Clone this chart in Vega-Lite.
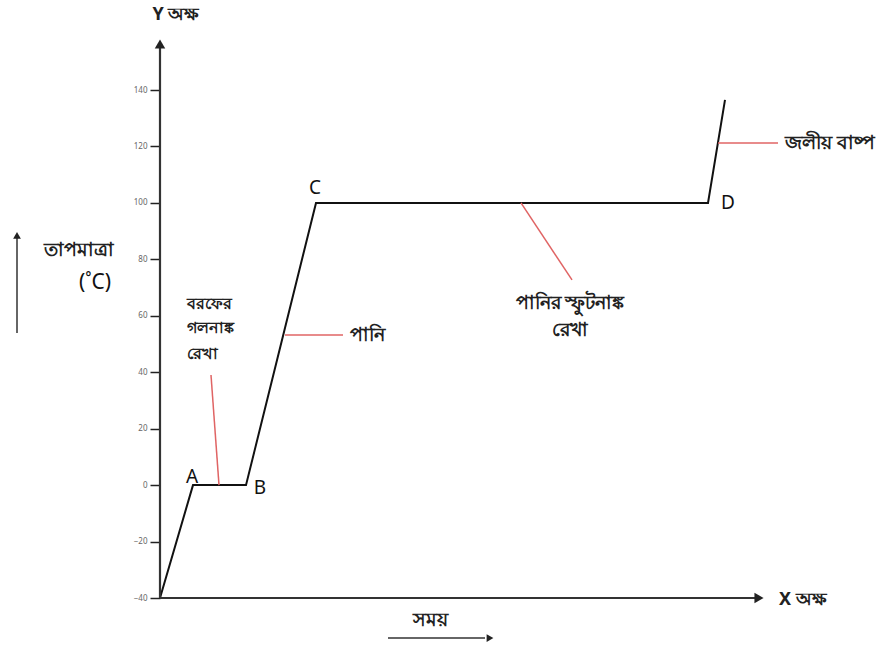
{
  "$schema": "https://vega.github.io/schema/vega-lite/v6.json",
  "width": 719,
  "height": 598,
  "autosize": {"type": "none"},
  "padding": {"left": 160, "top": 0, "right": 0, "bottom": 50},
  "background": "white",
  "config": {"view": {"stroke": null}, "font": "Noto Sans"},
  "datasets": {
    "curve": [
      {"t": 0, "temp": -40},
      {"t": 3.3, "temp": 0},
      {"t": 8.6, "temp": 0},
      {"t": 15.6, "temp": 100},
      {"t": 54.8, "temp": 100},
      {"t": 56.5, "temp": 136.5}
    ],
    "axes": [
      {"x": 0, "y": -40, "x2": 59.8, "y2": -40},
      {"x": 0, "y": -40, "x2": 0, "y2": 156}
    ],
    "arrows": [
      {"x": -14.3, "y": 53.9, "x2": -14.3, "y2": 88},
      {"x": 22.8, "y": -54.2, "x2": 32.5, "y2": -54.2}
    ],
    "bigheads": [
      {"x": 59.9, "y": -40, "dir": "right"},
      {"x": 0, "y": 156.3, "dir": "up"}
    ],
    "smallheads": [
      {"x": 33.0, "y": -54.2, "dir": "right"},
      {"x": -14.3, "y": 88.5, "dir": "up"}
    ],
    "leaders": [
      {"x": 5.9, "y": 0, "x2": 5.1, "y2": 39},
      {"x": 12.5, "y": 53.2, "x2": 18.3, "y2": 53.2},
      {"x": 36.1, "y": 100, "x2": 41.2, "y2": 72.7},
      {"x": 55.8, "y": 121.2, "x2": 61.8, "y2": 121.2}
    ],
    "points": [
      {"x": 3.2, "y": 2.9, "label": "A"},
      {"x": 10.0, "y": -1.0, "label": "B"},
      {"x": 15.5, "y": 105.3, "label": "C"},
      {"x": 56.8, "y": 100, "label": "D"}
    ],
    "melt": [
      {"x": 2.7, "y": 64.2, "label": "বরফের"},
      {"x": 2.7, "y": 55.5, "label": "গলনাঙ্ক"},
      {"x": 2.7, "y": 46.3, "label": "রেখা"}
    ],
    "notesLeft": [
      {"x": 19.0, "y": 53.2, "label": "পানি"},
      {"x": 62.5, "y": 121.2, "label": "জলীয় বাষ্প"}
    ],
    "notesCenter": [
      {"x": 41.0, "y": 64.5, "label": "পানির স্ফুটনাঙ্ক"},
      {"x": 41.0, "y": 55.0, "label": "রেখা"},
      {"x": -8.1, "y": 83.3, "label": "তাপমাত্রা"},
      {"x": 27.0, "y": -47.8, "label": "সময়"}
    ],
    "unit": [
      {"x": -6.5, "y": 71.6, "label": "(˚C)"}
    ],
    "yName": [
      {"x": 1.6, "y": 166.6, "label": "Y অক্ষ"}
    ],
    "xName": [
      {"x": 61.9, "y": -40.7, "label": "X অক্ষ"}
    ]
  },
  "layer": [
    {
      "data": {"name": "curve"},
      "mark": {"type": "line", "color": "#111", "strokeWidth": 2},
      "encoding": {
        "x": {"field": "t", "type": "quantitative", "scale": {"domain": [0, 71.9], "nice": false, "zero": false}, "axis": null},
        "y": {
          "field": "temp", "type": "quantitative",
          "scale": {"domain": [-40, 171.9], "nice": false, "zero": false},
          "axis": {
            "title": null, "domain": false, "grid": false,
            "values": [-40, -20, 0, 20, 40, 60, 80, 100, 120, 140],
            "labelFontSize": 8, "labelColor": "#666", "tickColor": "#222",
            "tickSize": 10, "tickWidth": 1.5, "labelPadding": 3
          }
        }
      }
    },
    {
      "data": {"name": "axes"},
      "mark": {"type": "rule", "color": "#333", "strokeWidth": 2.2},
      "encoding": {
        "x": {"field": "x", "type": "quantitative"},
        "y": {"field": "y", "type": "quantitative"},
        "x2": {"field": "x2"},
        "y2": {"field": "y2"}
      }
    },
    {
      "data": {"name": "arrows"},
      "mark": {"type": "rule", "color": "#333", "strokeWidth": 1.5},
      "encoding": {
        "x": {"field": "x", "type": "quantitative"},
        "y": {"field": "y", "type": "quantitative"},
        "x2": {"field": "x2"},
        "y2": {"field": "y2"}
      }
    },
    {
      "data": {"name": "bigheads"},
      "mark": {"type": "point", "filled": true, "color": "#222", "opacity": 1, "size": 110},
      "encoding": {
        "x": {"field": "x", "type": "quantitative"},
        "y": {"field": "y", "type": "quantitative"},
        "shape": {"field": "dir", "type": "nominal", "scale": {"domain": ["right", "up"], "range": ["triangle-right", "triangle-up"]}, "legend": null}
      }
    },
    {
      "data": {"name": "smallheads"},
      "mark": {"type": "point", "filled": true, "color": "#222", "opacity": 1, "size": 60},
      "encoding": {
        "x": {"field": "x", "type": "quantitative"},
        "y": {"field": "y", "type": "quantitative"},
        "shape": {"field": "dir", "type": "nominal", "scale": {"domain": ["right", "up"], "range": ["triangle-right", "triangle-up"]}, "legend": null}
      }
    },
    {
      "data": {"name": "leaders"},
      "mark": {"type": "rule", "color": "#e06464", "strokeWidth": 1.5},
      "encoding": {
        "x": {"field": "x", "type": "quantitative"},
        "y": {"field": "y", "type": "quantitative"},
        "x2": {"field": "x2"},
        "y2": {"field": "y2"}
      }
    },
    {
      "data": {"name": "points"},
      "mark": {"type": "text", "fontSize": 19, "color": "#111", "baseline": "middle", "align": "center"},
      "encoding": {
        "x": {"field": "x", "type": "quantitative"},
        "y": {"field": "y", "type": "quantitative"},
        "text": {"field": "label"}
      }
    },
    {
      "data": {"name": "melt"},
      "mark": {"type": "text", "fontSize": 16, "fontWeight": "bold", "color": "#222", "baseline": "middle", "align": "left"},
      "encoding": {
        "x": {"field": "x", "type": "quantitative"},
        "y": {"field": "y", "type": "quantitative"},
        "text": {"field": "label"}
      }
    },
    {
      "data": {"name": "notesLeft"},
      "mark": {"type": "text", "fontSize": 19, "fontWeight": "bold", "color": "#222", "baseline": "middle", "align": "left"},
      "encoding": {
        "x": {"field": "x", "type": "quantitative"},
        "y": {"field": "y", "type": "quantitative"},
        "text": {"field": "label"}
      }
    },
    {
      "data": {"name": "notesCenter"},
      "mark": {"type": "text", "fontSize": 19, "fontWeight": "bold", "color": "#222", "baseline": "middle", "align": "center"},
      "encoding": {
        "x": {"field": "x", "type": "quantitative"},
        "y": {"field": "y", "type": "quantitative"},
        "text": {"field": "label"}
      }
    },
    {
      "data": {"name": "unit"},
      "mark": {"type": "text", "fontSize": 21, "color": "#111", "baseline": "middle", "align": "center"},
      "encoding": {
        "x": {"field": "x", "type": "quantitative"},
        "y": {"field": "y", "type": "quantitative"},
        "text": {"field": "label"}
      }
    },
    {
      "data": {"name": "yName"},
      "mark": {"type": "text", "fontSize": 18, "fontWeight": "bold", "color": "#222", "baseline": "middle", "align": "center"},
      "encoding": {
        "x": {"field": "x", "type": "quantitative"},
        "y": {"field": "y", "type": "quantitative"},
        "text": {"field": "label"}
      }
    },
    {
      "data": {"name": "xName"},
      "mark": {"type": "text", "fontSize": 18, "fontWeight": "bold", "color": "#222", "baseline": "middle", "align": "left"},
      "encoding": {
        "x": {"field": "x", "type": "quantitative"},
        "y": {"field": "y", "type": "quantitative"},
        "text": {"field": "label"}
      }
    }
  ]
}
